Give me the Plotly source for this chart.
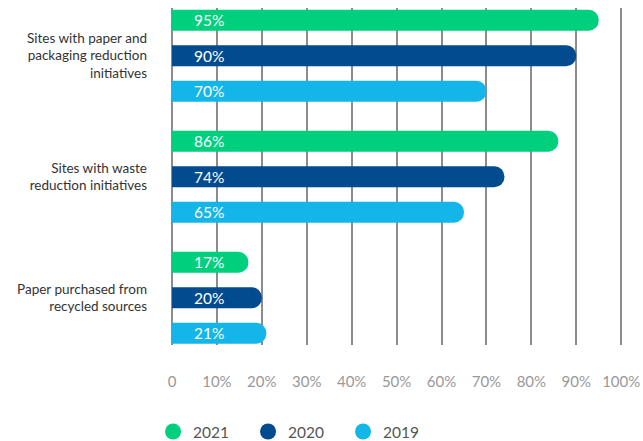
import plotly.graph_objects as go

categories = ["Sites with paper and<br>packaging reduction<br>initiatives",
              "Sites with waste<br>reduction initiatives",
              "Paper purchased from<br>recycled sources"]
series_names = ["2021", "2020", "2019"]
values_2021 = [95, 86, 17]
values_2020 = [90, 74, 20]
values_2019 = [70, 65, 21]
tick_vals = [0, 10, 20, 30, 40, 50, 60, 70, 80, 90, 100]
tick_text = ["0", "10%", "20%", "30%", "40%", "50%", "60%", "70%", "80%", "90%", "100%"]

colors = ["#00CF7E", "#014B8E", "#14B6EA"]
all_values = [values_2021, values_2020, values_2019]

FONT = "Lato"
fig = go.Figure()
for name, vals, col in zip(series_names, all_values, colors):
    fig.add_trace(go.Bar(
        x=vals, y=categories, orientation="h", name=name,
        marker=dict(color=col, cornerradius="50%", line=dict(width=0)),
        showlegend=False, hoverinfo="skip",
    ))
for name, col in zip(series_names, colors):
    fig.add_trace(go.Scatter(
        x=[None], y=[None], mode="markers", name=name,
        marker=dict(color=col, size=18, symbol="circle"),
    ))

annotations = []
pitch = 35.3
for i, (vals, col) in enumerate(zip(all_values, colors)):
    for j, v in enumerate(vals):
        annotations.append(dict(
            x=0, y=categories[j], xref="x", yref="y",
            text=f"{v}%", showarrow=False, xanchor="center", xshift=37,
            yshift=(1 - i) * pitch,
            font=dict(family=FONT, size=15.5, color="white"),
        ))

fig.update_layout(
    width=643, height=441,
    margin=dict(l=172, r=20, t=8, b=96, autoexpand=False),
    paper_bgcolor="white", plot_bgcolor="white",
    barmode="group", bargap=0.12, bargroupgap=0.41,
    font=dict(family=FONT, color="#333333"),
    annotations=annotations,
    legend=dict(orientation="h", x=-0.042, xanchor="left", y=-0.258, yanchor="middle",
                font=dict(family=FONT, size=15.5, color="#555555"),
                entrywidth=50, itemclick=False),
    xaxis=dict(range=[0, 100.4], tickvals=tick_vals, ticktext=tick_text,
               showgrid=True, gridcolor="#8c8c8c", gridwidth=1.5,
               zeroline=True, zerolinecolor="#8c8c8c", zerolinewidth=1.5,
               showline=False, ticks="", ticklabelstandoff=26, automargin=False,
               tickfont=dict(family=FONT, size=15, color="#999999"),
               fixedrange=True),
    yaxis=dict(range=[2.391, -0.394], type="category",
               categoryorder="array", categoryarray=categories,
               showgrid=False, zeroline=False, showline=False, ticks="",
               ticklabelstandoff=24, automargin=False,
               tickfont=dict(family=FONT, size=13.5, color="#333333"),
               fixedrange=True),
)

fig.write_html("out.html", config={"displayModeBar": False},
               post_script="document.body.style.margin='0px';document.body.style.overflow='hidden';")
